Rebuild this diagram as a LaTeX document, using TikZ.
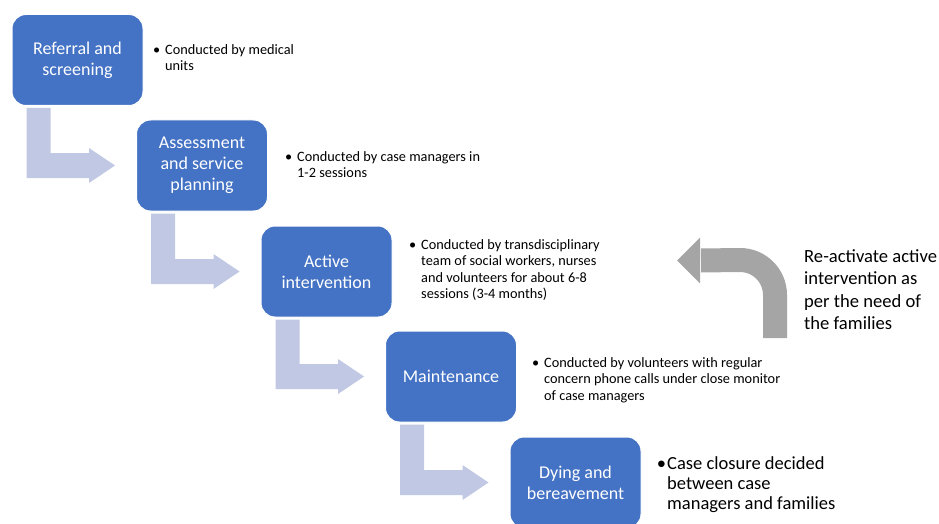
\documentclass[tikz,border=0pt]{standalone}
\usepackage{fontspec}
\setmainfont{Carlito}
\usetikzlibrary{calc}
\definecolor{azul}{HTML}{4472C4}
\definecolor{azulclaro}{RGB}{192,200,228}
\definecolor{gris}{HTML}{A5A5A5}
\begin{document}
\begin{tikzpicture}[x=1pt,y=-1pt]
% estilos de cajas, notas y flechas
\tikzstyle{etapa} = [fill=azul, draw=white, line width=1pt, rounded corners=14pt, minimum width=131pt, minimum height=91pt, text=white, align=center, inner sep=0pt, font=\fontsize{18pt}{21pt}\selectfont]
\tikzstyle{nota} = [anchor=north west, align=left, inner sep=0pt, font=\fontsize{14.3pt}{16.5pt}\selectfont]
\tikzstyle{notag} = [font=\fontsize{18.5pt}{20pt}\selectfont]
\tikzstyle{flecha} = [fill=azulclaro]
% definicion flecha escalonada
% #1: etapa de salida
% #2: etapa de llegada
\newcommand{\flechaesc}[2]{
\path ($(#1.south west)+(15,2)$) coordinate (S);
\path ($(#2.west)+(-21,0)$) coordinate (T);
\path ($(T)+(0,12.5)$) coordinate (U);
\fill[flecha] (S) -- ++(24,0) |- ($(T)+(-26,-12.5)$) -- ++(0,-5) -- (T)
-- ++(-26,17.5) -- ++(0,-5) -- (S |- U) -- cycle;
 }
\useasboundingbox (0,0) rectangle (939,524);
% dibujar etapas
\node[etapa] (e1) at (77.5,60) {Referral and\\screening};
\node[etapa] (e2) at (202,165.5) {Assessment\\and service\\planning};
\node[etapa] (e3) at (326.5,271.5) {Active\\intervention};
\node[etapa] (e4) at (451,376.5) {Maintenance};
\node[etapa] (e5) at (575.5,482.5) {Dying and\\bereavement};
% dibujar flechas entre etapas
\flechaesc{e1}{e2}
\flechaesc{e2}{e3}
\flechaesc{e3}{e4}
\flechaesc{e4}{e5}
% dibujar notas
\node[nota] (n1) at (165,44) {\llap{\textbullet\hspace{5pt}}Conducted by medical\\units};
\node[nota] (n2) at (297,151) {\llap{\textbullet\hspace{5pt}}Conducted by case managers in\\1-2 sessions};
\node[nota] (n3) at (421,239) {\llap{\textbullet\hspace{5pt}}Conducted by transdisciplinary\\team of social workers, nurses\\and volunteers for about 6-8\\sessions (3-4 months)};
\node[nota] (n4) at (544,357) {\llap{\textbullet\hspace{5pt}}Conducted by volunteers with regular\\concern phone calls under close monitor\\of case managers};
\node[nota,notag] (n5) at (667,456) {\llap{\textbullet\hspace{1pt}}Case closure decided\\between case\\managers and families};
% flecha de reactivacion
\draw[gris, line width=24pt] (775,338) -- (775,295) arc[start angle=0, end angle=90, radius=35pt] -- (701,260.5);
\fill[gris] (700,237.5) -- (677,260.5) -- (700,283.5) -- cycle;
\node[nota, font=\fontsize{18.6pt}{22.5pt}\selectfont] (reactivar) at (804,249) {Re-activate active\\intervention as\\per the need of\\the families};
\end{tikzpicture}
\end{document}
